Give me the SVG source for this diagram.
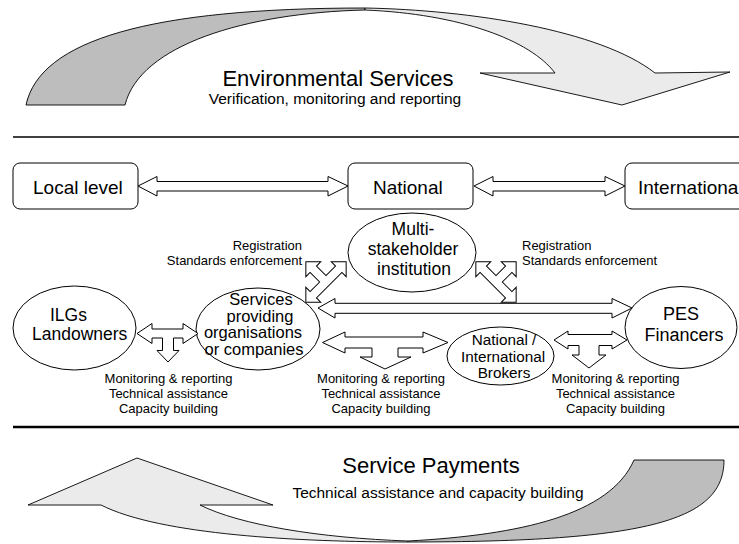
<svg xmlns="http://www.w3.org/2000/svg" width="739" height="544" viewBox="0 0 739 544">
<defs>
<style>
text{font-family:"Liberation Sans",Arial,Helvetica,sans-serif;fill:#000}
.node{fill:#fff;stroke:#000;stroke-width:1}
.arr{fill:#fff;stroke:#000;stroke-width:1;stroke-linejoin:miter}
.band{stroke:#000;stroke-width:0.9;stroke-linejoin:round}
.dark{fill:#bdbdbd}
.light{fill:#ebebeb}
.title{font-size:22px}
.sub{font-size:15.5px}
.box{font-size:19px}
.lbl{font-size:13px}
.c{text-anchor:middle}
</style>
</defs>
<rect width="739" height="544" fill="#fff"/>

<g id="env-services">
<path class="band dark" d="M26,105 C40,40 150,8 365,8 L365,10 C245,13 140,45 125,105 Z"/>
<path class="band light" d="M365,8 C470,10 600,30 655,73 L730,72 L622,105 L480,73 L555,73 C530,40 460,14 365,10 Z"/>
<text class="title c" x="338" y="86">Environmental Services</text>
<text class="sub c" x="335" y="104">Verification, monitoring and reporting</text>
</g>

<line x1="13" y1="137" x2="739" y2="137" stroke="#000" stroke-width="1.3"/>
<line x1="13" y1="427" x2="739" y2="427" stroke="#000" stroke-width="2.5"/>

<g id="local-level">
<rect class="node" x="13" y="163" width="125" height="46" rx="7"/>
<text class="box" x="33" y="194">Local level</text>
</g>
<g id="national">
<rect class="node" x="348" y="163" width="125" height="46" rx="7"/>
<text class="box" x="373" y="194">National</text>
</g>
<g id="international">
<rect class="node" x="625" y="163" width="130" height="46" rx="7"/>
<text class="box" x="638" y="194">International</text>
</g>

<g id="multi-stakeholder">
<ellipse class="node" cx="412" cy="252.5" rx="64" ry="39.5"/>
<text class="c" x="413" y="235" font-size="17.5">Multi-</text>
<text class="c" x="413" y="255" font-size="17.5">stakeholder</text>
<text class="c" x="414" y="275" font-size="17.5">institution</text>
</g>
<g id="ilgs">
<ellipse class="node" cx="74.5" cy="328" rx="61.5" ry="42"/>
<text x="50" y="321" font-size="17.5">ILGs</text>
<text x="32" y="340" font-size="17.5">Landowners</text>
</g>
<g id="services">
<ellipse class="node" cx="258" cy="329" rx="62" ry="41"/>
<text class="c" x="261" y="305" font-size="16.5">Services</text>
<text class="c" x="260" y="321.5" font-size="16.5">providing</text>
<text class="c" x="253" y="338" font-size="16.5">organisations</text>
<text class="c" x="254" y="355" font-size="16.5">or companies</text>
</g>
<g id="brokers">
<ellipse class="node" cx="500.5" cy="356" rx="53.5" ry="29"/>
<text class="c" x="504" y="345" font-size="15.3">National /</text>
<text class="c" x="503" y="361.5" font-size="15.3">International</text>
<text class="c" x="504" y="378" font-size="15.3">Brokers</text>
</g>
<g id="pes-financers">
<ellipse class="node" cx="681" cy="327.5" rx="56" ry="41"/>
<text class="c" x="681" y="320" font-size="18">PES</text>
<text class="c" x="684" y="341" font-size="18">Financers</text>
</g>

<g id="connectors">
<path class="arr" d="M138,186 L157,176.5 L157,181.5 L328,181.5 L328,176.5 L348,186 L328,196 L328,191 L157,191 L157,196 Z"/>
<path class="arr" d="M474,186 L493,176.5 L493,181.5 L605,181.5 L605,176.5 L625,186 L605,196 L605,191 L493,191 L493,196 Z"/>
<path class="arr" d="M318,308 L335,298.5 L335,303.3 L612,303.3 L612,298.5 L632,308 L612,318 L612,313.3 L335,313.3 L335,318 Z"/>
<path class="arr" transform="translate(326,282) rotate(-45)" d="M-28.5,0 L-18,-10.5 L-18,-4.5 L-4.5,-4.5 L-4.5,-18 L-10.5,-18 L0,-28.5 L10.5,-18 L4.5,-18 L4.5,-4.5 L18,-4.5 L18,-10.5 L28.5,0 L18,10.5 L18,4.5 L-18,4.5 L-18,10.5 Z"/>
<path class="arr" transform="translate(496,282) rotate(45)" d="M-28.5,0 L-18,-10.5 L-18,-4.5 L-4.5,-4.5 L-4.5,-18 L-10.5,-18 L0,-28.5 L10.5,-18 L4.5,-18 L4.5,-4.5 L18,-4.5 L18,-10.5 L28.5,0 L18,10.5 L18,4.5 L-18,4.5 L-18,10.5 Z"/>
<path class="arr" d="M137,333.5 L152,323.5 L152,329 L183,329 L183,323.5 L198,333.5 L183,343.5 L183,338 L173.5,338 L173.5,350.5 L179,350.5 L168,362 L157,350.5 L162.5,350.5 L162.5,338 L152,338 L152,343.5 Z"/>
<path class="arr" d="M322.5,342.5 L345,332 L345,337 L423,337 L423,332 L448,342.5 L423,353 L423,348 L398,348 L398,357 L411,357 L385,369 L360,357 L372,357 L372,348 L345,348 L345,353 Z"/>
<path class="arr" d="M554,340 L568,331 L568,334.5 L612,334.5 L612,331 L627,340 L612,349 L612,345.5 L599,345.5 L599,355 L606,355 L589,368 L572,355 L579,355 L579,345.5 L568,345.5 L568,349 Z"/>
</g>

<g id="labels">
<text class="lbl" x="302" y="250" text-anchor="end">Registration</text>
<text class="lbl" x="302" y="265" text-anchor="end">Standards enforcement</text>
<text class="lbl" x="522" y="250">Registration</text>
<text class="lbl" x="522" y="265">Standards enforcement</text>
<text class="lbl c" x="168.5" y="383">Monitoring &amp; reporting</text>
<text class="lbl c" x="168.5" y="398">Technical assistance</text>
<text class="lbl c" x="168.5" y="413">Capacity building</text>
<text class="lbl c" x="381" y="383">Monitoring &amp; reporting</text>
<text class="lbl c" x="381" y="398">Technical assistance</text>
<text class="lbl c" x="381" y="413">Capacity building</text>
<text class="lbl c" x="615.5" y="383">Monitoring &amp; reporting</text>
<text class="lbl c" x="615.5" y="398">Technical assistance</text>
<text class="lbl c" x="615.5" y="413">Capacity building</text>
</g>

<g id="service-payments">
<path class="band light" d="M28,505 L137,458 L273,505 L200,505 C240,525 320,538 408,541 L408,542 C300,542 160,535 101,505 Z"/>
<path class="band dark" d="M634,460 L724,460 C724,520 650,542 408,542 L408,541 C520,535 610,515 634,460 Z"/>
<text class="title c" x="431" y="473">Service Payments</text>
<text class="sub c" x="438" y="498">Technical assistance and capacity building</text>
</g>
</svg>
